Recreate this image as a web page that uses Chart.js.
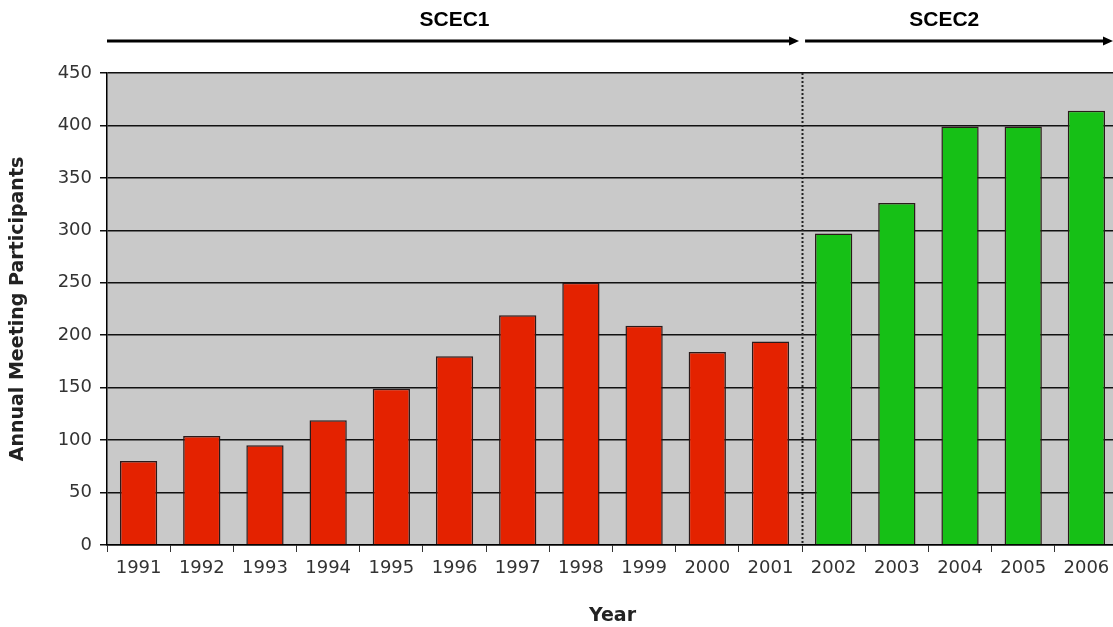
<!DOCTYPE html>
<html>
<head>
<meta charset="utf-8">
<script src="https://cdn.jsdelivr.net/npm/chart.js@4/dist/chart.umd.min.js"></script>
<style>
  html, body { margin: 0; padding: 0; background: #fff; overflow: hidden; }
  #wrap { width: 1120px; height: 627px; }
</style>
</head>
<body>
<div id="wrap"><canvas id="chart" width="1120" height="627"></canvas></div>
<script>
"use strict";

// ----- data ---------------------------------------------------------------- //
const years = ["1991", "1992", "1993", "1994", "1995", "1996", "1997", "1998",
               "1999", "2000", "2001", "2002", "2003", "2004", "2005", "2006"];
const participants = [80, 104, 95, 119, 149, 180, 219, 250,
                      209, 184, 194, 297, 326, 399, 399, 414];
const periodNames = ["SCEC1", "SCEC2"];
const periodStarts = ["1991", "2002"];
const periodColors = ["#e42200", "#16c016"];
const yTicks = [0, 50, 100, 150, 200, 250, 300, 350, 400, 450];

// index of the period a year belongs to
function periodOf(year) {
  let p = 0;
  periodStarts.forEach((s, i) => { if (year >= s) p = i; });
  return p;
}

// ----- plugins ------------------------------------------------------------- //
const plotBackground = {
  id: "plotBackground",
  beforeDraw(chart) {
    const { ctx, chartArea: a } = chart;
    ctx.save();
    ctx.fillStyle = "#c9c9c9";
    ctx.fillRect(a.left, a.top, a.right - a.left, a.bottom - a.top);
    ctx.restore();
  },
};

// dotted divider between the periods + arrows with period names on top
const periodMarks = {
  id: "periodMarks",
  beforeDatasetsDraw(chart) {
    const { ctx, chartArea: a, scales: { x } } = chart;
    ctx.save();
    ctx.strokeStyle = "#222";
    ctx.lineWidth = 2;
    ctx.setLineDash([2, 2]);
    for (let i = 1; i < periodStarts.length; i++) {
      const px = Math.round(x.getPixelForValue(years.indexOf(periodStarts[i]) - 0.5)) + 0.5;
      ctx.beginPath();
      ctx.moveTo(px, a.top);
      ctx.lineTo(px, a.bottom);
      ctx.stroke();
    }
    ctx.restore();
  },
  afterDraw(chart) {
    const { ctx, chartArea: a, scales: { x } } = chart;
    const arrowY = 41;
    ctx.save();
    periodNames.forEach((name, i) => {
      const first = years.indexOf(periodStarts[i]);
      const next = i + 1 < periodStarts.length ? years.indexOf(periodStarts[i + 1]) : years.length;
      const x0 = i === 0 ? a.left : x.getPixelForValue(first - 0.5) + 3;
      const x1 = i + 1 < periodStarts.length ? x.getPixelForValue(next - 0.5) - 3 : chart.width - 7;
      ctx.strokeStyle = "#000";
      ctx.fillStyle = "#000";
      ctx.lineWidth = 3;
      ctx.beginPath();
      ctx.moveTo(x0, arrowY);
      ctx.lineTo(x1 - 8, arrowY);
      ctx.stroke();
      ctx.beginPath();
      ctx.moveTo(x1, arrowY);
      ctx.lineTo(x1 - 10, arrowY - 4.5);
      ctx.lineTo(x1 - 10, arrowY + 4.5);
      ctx.closePath();
      ctx.fill();

      ctx.font = "bold 21px 'Liberation Sans', Arial, sans-serif";
      ctx.textAlign = "center";
      ctx.textBaseline = "middle";
      const mid = i === 0 ? x.getPixelForValue((first + next - 1) / 2)
                          : x.getPixelForValue(first + (next - first) * 0.35);
      ctx.fillText(name, mid, 20);
    });
    ctx.restore();
  },
};

// ----- chart --------------------------------------------------------------- //
const tickFont = { family: "'DejaVu Sans', Verdana, sans-serif", size: 18 };
const titleFont = { family: "'DejaVu Sans', Verdana, sans-serif", size: 19, weight: "bold" };

new Chart(document.getElementById("chart"), {
  type: "bar",
  data: {
    labels: years,
    datasets: [{
      data: participants,
      backgroundColor: years.map(y => periodColors[periodOf(y)]),
      borderColor: "#2a1a1a",
      borderWidth: 1.5,
      borderSkipped: "bottom",
      categoryPercentage: 1,
      barPercentage: 0.59,
    }],
  },
  options: {
    responsive: false,
    devicePixelRatio: 1,
    animation: false,
    layout: { padding: { top: 73, right: 2, left: 0, bottom: 0 } },
    plugins: { legend: { display: false }, tooltip: { enabled: false } },
    scales: {
      x: {
        afterFit(s) { s.height = 82; },
        grid: { drawOnChartArea: false, drawTicks: true, tickLength: 7, color: "#333", offset: true },
        border: { color: "#000", width: 1.5 },
        ticks: { font: tickFont, color: "#333", padding: 6, maxRotation: 0, autoSkip: false },
        title: { display: true, text: "Year", font: titleFont, color: "#222", padding: { top: 0, bottom: 0 } },
      },
      y: {
        min: 0,
        max: 450,
        afterFit(s) { s.width = 107; },
        afterBuildTicks(s) { s.ticks = yTicks.map(v => ({ value: v })); },
        grid: { color: "#111", lineWidth: 1.5, tickLength: 7 },
        border: { color: "#000", width: 1.5 },
        ticks: { font: tickFont, color: "#333", padding: 8 },
        title: { display: true, text: "Annual Meeting Participants", font: titleFont, color: "#222", padding: { top: 7 } },
      },
    },
  },
  plugins: [plotBackground, periodMarks],
});
</script>
</body>
</html>
